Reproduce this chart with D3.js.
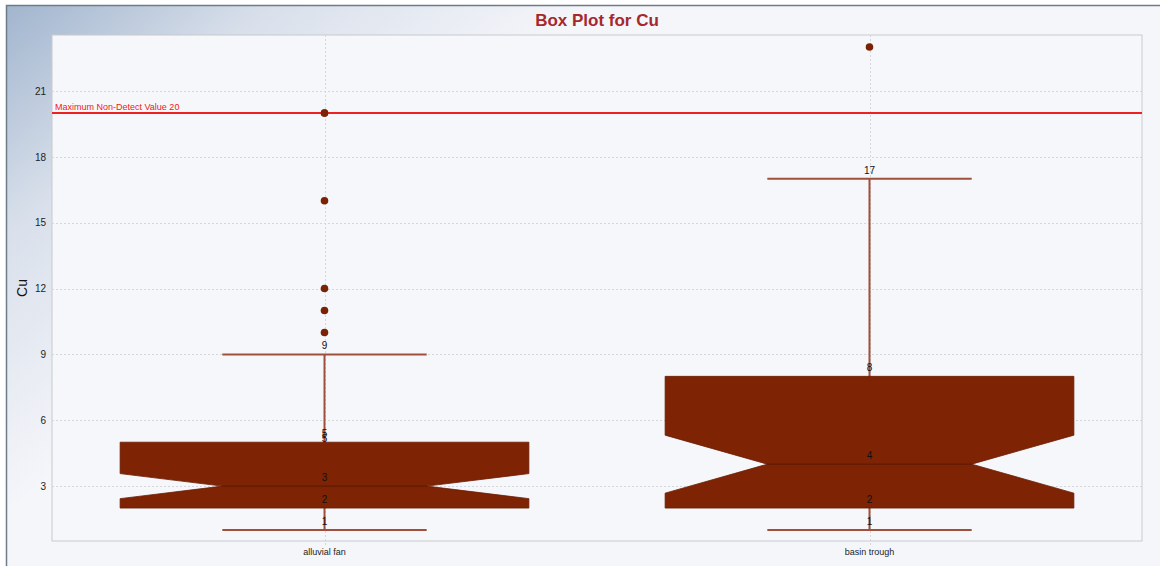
<!DOCTYPE html>
<html>
<head>
<meta charset="utf-8">
<script src="https://cdn.jsdelivr.net/npm/d3@7"></script>
<style>
  body { margin: 0; background: #fff; }
  text { font-family: "Liberation Sans", Arial, sans-serif; }
</style>
</head>
<body>
<div id="chart"></div>
<script>
// data
var categories = ["alluvial fan", "basin trough"];
var lowerWhisker = [1, 1];
var q1 = [2, 2];
var median = [3, 4];
var q3 = [5, 8];
var upperWhisker = [9, 17];
var notchLow = [2.43, 2.68];
var notchHigh = [3.57, 5.32];
var outliers = [[10, 11, 12, 16, 20], [23]];
var valueLabels = [[1, 2, 3, 4.8, 5, 9], [1, 2, 4, 8, 17]];
var yTicks = [3, 6, 9, 12, 15, 18, 21];
var nonDetect = 20;

var width = 1160, height = 566;
var plot = {left: 52, top: 35, right: 1142, bottom: 541};

var svg = d3.select("#chart").append("svg")
    .attr("width", width)
    .attr("height", height);

var defs = svg.append("defs");
var grad = defs.append("linearGradient")
    .attr("id", "bgGrad")
    .attr("gradientUnits", "userSpaceOnUse")
    .attr("x1", 6).attr("y1", 5)
    .attr("x2", 260).attr("y2", 300);
grad.append("stop").attr("offset", 0).attr("stop-color", "#a1b5ce");
grad.append("stop").attr("offset", 0.45).attr("stop-color", "#d9e0eb");
grad.append("stop").attr("offset", 1).attr("stop-color", "#f5f6fa");

// panel
svg.append("rect")
    .attr("x", 6).attr("y", 5)
    .attr("width", width - 6).attr("height", height - 5)
    .style("fill", "url(#bgGrad)");
svg.append("path")
    .attr("d", "M6.5," + height + "V5.5H" + width)
    .style("fill", "none")
    .style("stroke", "#6e7c87")
    .style("stroke-width", 1.5);

// plot area
svg.append("rect")
    .attr("x", plot.left).attr("y", plot.top)
    .attr("width", plot.right - plot.left)
    .attr("height", plot.bottom - plot.top)
    .style("fill", "#f5f7fb")
    .style("stroke", "#c8cacd")
    .style("stroke-width", 1);

var x = d3.scaleBand()
    .domain(categories)
    .range([plot.left, plot.right])
    .padding(0);

var y = d3.scaleLinear()
    .domain([0.5, 23.55])
    .range([plot.bottom, plot.top]);

// grid
svg.append("g").selectAll("line")
    .data(yTicks)
    .join("line")
    .attr("x1", plot.left).attr("x2", plot.right)
    .attr("y1", function(d){ return Math.round(y(d)) + 0.5; })
    .attr("y2", function(d){ return Math.round(y(d)) + 0.5; })
    .style("stroke", "#d4d6da")
    .style("stroke-dasharray", "2,2");

svg.append("g").selectAll("line")
    .data(categories)
    .join("line")
    .attr("x1", function(d){ return Math.round(x(d) + x.bandwidth()/2) + 0.5; })
    .attr("x2", function(d){ return Math.round(x(d) + x.bandwidth()/2) + 0.5; })
    .attr("y1", plot.top).attr("y2", plot.bottom + 5)
    .style("stroke", "#d4d6da")
    .style("stroke-dasharray", "2,2");

// axes
var yAxis = svg.append("g")
    .attr("transform", "translate(" + (plot.left - 3) + ",0)")
    .call(d3.axisLeft(y).tickValues(yTicks).tickSize(0).tickPadding(3));
yAxis.select(".domain").remove();
yAxis.selectAll("text")
    .style("font-size", "10px")
    .style("fill", "#222");

var xAxis = svg.append("g")
    .attr("transform", "translate(0," + plot.bottom + ")")
    .call(d3.axisBottom(x).tickSize(0).tickPadding(8));
xAxis.select(".domain").remove();
xAxis.selectAll("text")
    .style("font-size", "9px")
    .style("fill", "#222");

// title and axis label
svg.append("text")
    .attr("x", (plot.left + plot.right)/2)
    .attr("y", 26)
    .attr("text-anchor", "middle")
    .style("font-size", "17px")
    .style("font-weight", "bold")
    .style("fill", "#a5282d")
    .text("Box Plot for Cu");

svg.append("text")
    .attr("transform", "translate(27," + ((plot.top + plot.bottom)/2) + ") rotate(-90)")
    .attr("text-anchor", "middle")
    .style("font-size", "14px")
    .style("fill", "#111")
    .text("Cu");

// boxes
var boxes = svg.append("g").selectAll("g")
    .data(categories)
    .join("g");

boxes.each(function(cat, i){
    var g = d3.select(this);
    var cx = x(cat) + x.bandwidth()/2;
    var half = x.bandwidth()*0.375;
    var cap = x.bandwidth()*0.1875;
    var indent = half*0.5;

    g.append("line")
        .attr("x1", cx).attr("x2", cx)
        .attr("y1", y(lowerWhisker[i])).attr("y2", y(upperWhisker[i]))
        .style("stroke", "#a0503a")
        .style("stroke-width", 2);
    [lowerWhisker[i], upperWhisker[i]].forEach(function(v){
        g.append("line")
            .attr("x1", cx - cap).attr("x2", cx + cap)
            .attr("y1", y(v)).attr("y2", y(v))
            .style("stroke", "#a0503a")
            .style("stroke-width", 2);
    });

    var l = cx - half, r = cx + half;
    var pts = [
        [l, y(q3[i])], [r, y(q3[i])], [r, y(notchHigh[i])],
        [r - indent, y(median[i])], [r, y(notchLow[i])], [r, y(q1[i])],
        [l, y(q1[i])], [l, y(notchLow[i])], [l + indent, y(median[i])],
        [l, y(notchHigh[i])]
    ];
    g.append("polygon")
        .attr("points", pts.map(function(p){ return p.join(","); }).join(" "))
        .style("fill", "#7e2304")
        .style("stroke", "#6a1c02")
        .style("stroke-width", 0.8);

    g.append("line")
        .attr("x1", l + indent).attr("x2", r - indent)
        .attr("y1", y(median[i])).attr("y2", y(median[i]))
        .style("stroke", "#5a1802")
        .style("stroke-width", 1);

    g.selectAll("circle")
        .data(outliers[i])
        .join("circle")
        .attr("cx", cx)
        .attr("cy", function(d){ return y(d); })
        .attr("r", 3.8)
        .style("fill", "#7a2204");

    g.selectAll("text.val")
        .data(valueLabels[i])
        .join("text")
        .attr("class", "val")
        .attr("x", cx)
        .attr("y", function(d){ return y(d) - 5; })
        .attr("text-anchor", "middle")
        .style("font-size", "10px")
        .style("fill", "#111")
        .text(function(d){ return d3.format(".0f")(d); });
});

// non-detect line
svg.append("line")
    .attr("x1", plot.left).attr("x2", plot.right)
    .attr("y1", y(nonDetect)).attr("y2", y(nonDetect))
    .style("stroke", "#f02020")
    .style("stroke-width", 2);

svg.append("text")
    .attr("x", plot.left + 3)
    .attr("y", y(nonDetect) - 3)
    .style("font-size", "9px")
    .style("fill", "#f01818")
    .text("Maximum Non-Detect Value " + nonDetect);

// outlier dots sit above the red line
svg.append("g").selectAll("circle")
    .data(categories.flatMap(function(c, i){
        return outliers[i].filter(function(v){ return v === nonDetect; })
            .map(function(v){ return {c: c, v: v}; });
    }))
    .join("circle")
    .attr("cx", function(d){ return x(d.c) + x.bandwidth()/2; })
    .attr("cy", function(d){ return y(d.v); })
    .attr("r", 3.8)
    .style("fill", "#7a2204");
</script>
</body>
</html>
